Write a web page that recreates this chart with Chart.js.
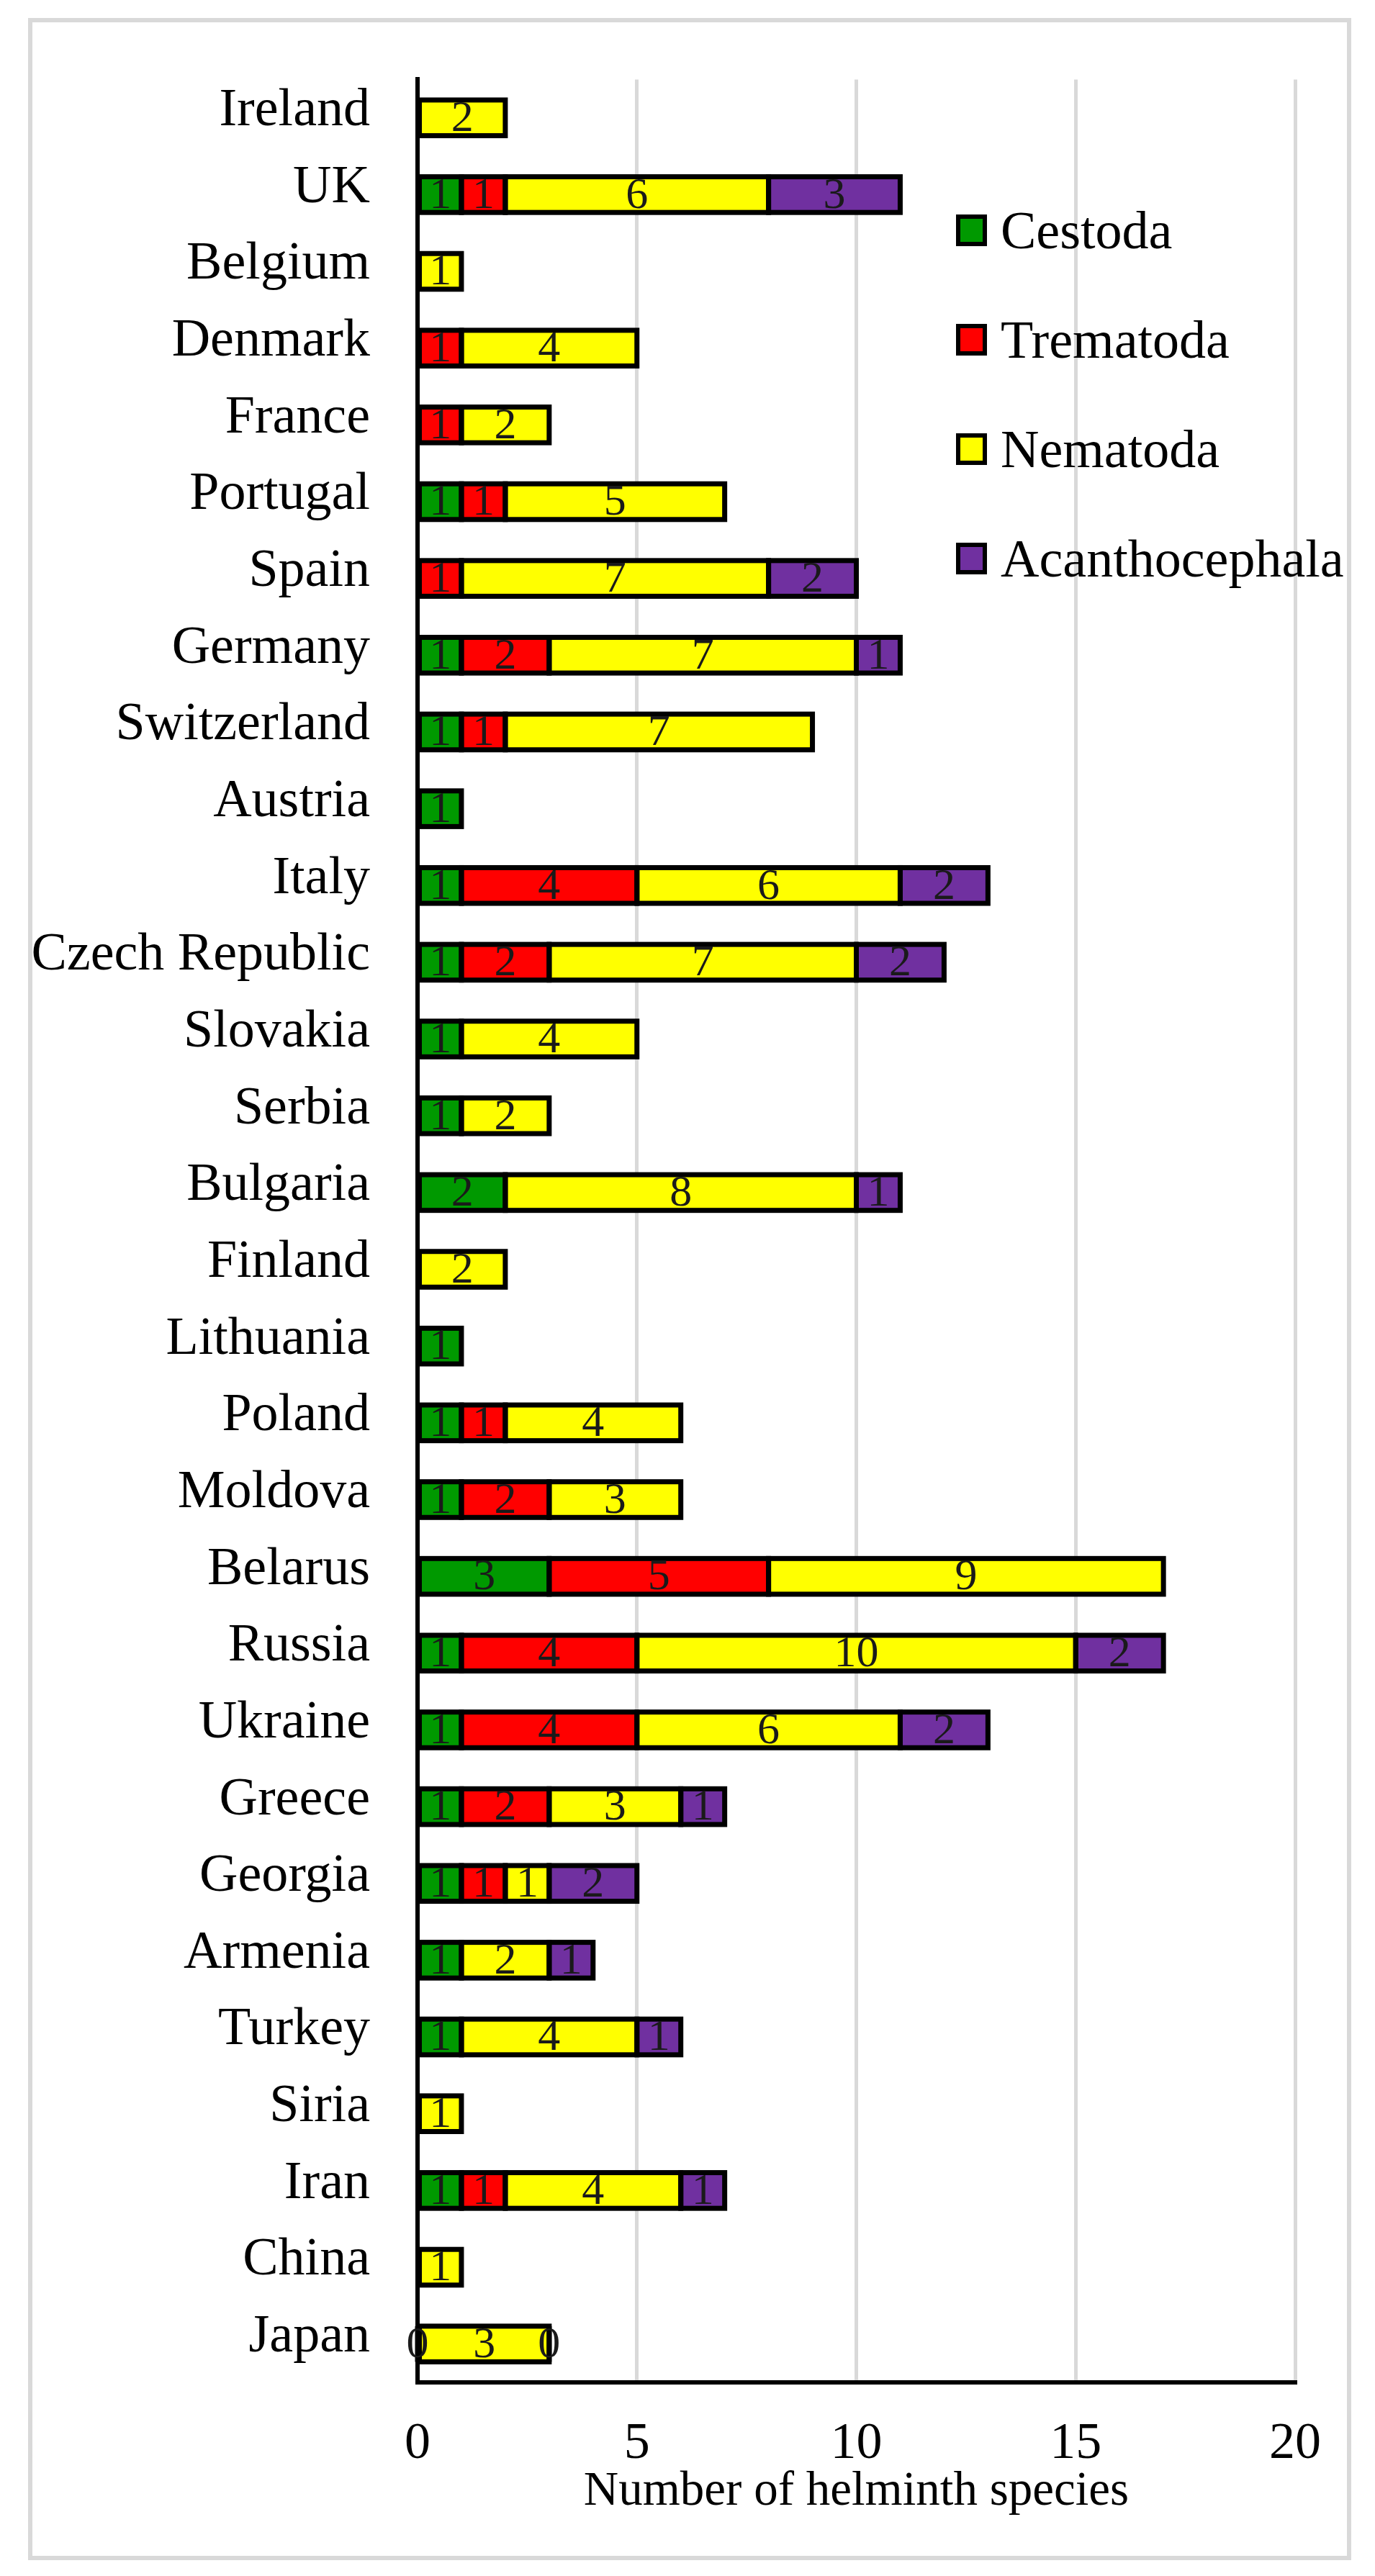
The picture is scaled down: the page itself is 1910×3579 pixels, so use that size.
<!DOCTYPE html>
<html>
<head>
<meta charset="utf-8">
<script src="https://cdn.jsdelivr.net/npm/chart.js@4.4.1/dist/chart.umd.min.js"></script>
<style>
    html, body { margin: 0; padding: 0; background: #fff; }
    #wrap { position: relative; width: 1910px; height: 3579px; }
    #frame { position: absolute; left: 39px; top: 25px; width: 1826px; height: 3520px; border: 6px solid #d9d9d9; }
    #chartBox { position: absolute; left: 0; top: 0; width: 1910px; height: 3579px; }
    #legend { position: absolute; left: 1328px; top: 244px; font-family: "Liberation Serif", serif; font-size: 74px; color: #000; }
    .item { display: flex; align-items: center; height: 152px; }
    .swatch { width: 31px; height: 32px; border: 6px solid #000; margin-right: 19px; }
</style>
</head>
<body>
<div id="wrap">
    <div id="frame"></div>
    <div id="chartBox"><canvas id="helminthChart"></canvas></div>
    <div id="legend"></div>
</div>
<script>
// countries, top to bottom
const countries = ["Ireland", "UK", "Belgium", "Denmark", "France", "Portugal", "Spain", "Germany",
    "Switzerland", "Austria", "Italy", "Czech Republic", "Slovakia", "Serbia", "Bulgaria", "Finland",
    "Lithuania", "Poland", "Moldova", "Belarus", "Russia", "Ukraine", "Greece", "Georgia", "Armenia",
    "Turkey", "Siria", "Iran", "China", "Japan"];

// number of species per group (null = no bar / no label)
const cestoda = [null, 1, null, null, null, 1, null, 1, 1, 1, 1, 1, 1, 1, 2, null, 1, 1, 1, 3, 1, 1, 1, 1, 1, 1, null, 1, null, 0];
const trematoda = [null, 1, null, 1, 1, 1, 1, 2, 1, null, 4, 2, null, null, null, null, null, 1, 2, 5, 4, 4, 2, 1, null, null, null, 1, null, null];
const nematoda = [2, 6, 1, 4, 2, 5, 7, 7, 7, null, 6, 7, 4, 2, 8, 2, null, 4, 3, 9, 10, 6, 3, 1, 2, 4, 1, 4, 1, 3];
const acanthocephala = [null, 3, null, null, null, null, 2, 1, null, null, 2, 2, null, null, 1, null, null, null, null, null, 2, 2, 1, 2, 1, 1, null, 1, null, 0];

const groupNames = ["Cestoda", "Trematoda", "Nematoda", "Acanthocephala"];
const groupColors = ["#009900", "#ff0000", "#ffff00", "#7030a0"];
const xTicks = [0, 5, 10, 15, 20];

const serif = "'Liberation Serif', 'Times New Roman', serif";

// black outline centred on each segment edge (like the office chart), then the numbers
const segmentOutlines = {
    id: "segmentOutlines",
    afterDatasetsDraw(chart) {
        const ctx = chart.ctx;
        ctx.save();
        ctx.lineWidth = 7;
        ctx.strokeStyle = "#000";
        chart.data.datasets.forEach(function (ds, i) {
            chart.getDatasetMeta(i).data.forEach(function (bar, j) {
                if (ds.data[j] === null) return;
                const left = Math.min(bar.x, bar.base);
                const w = Math.abs(bar.x - bar.base);
                ctx.strokeRect(left, bar.y - bar.height / 2, w, bar.height);
            });
        });
        ctx.font = "62px " + serif;
        ctx.fillStyle = "#1a1a1a";
        ctx.textAlign = "center";
        ctx.textBaseline = "middle";
        chart.data.datasets.forEach(function (ds, i) {
            chart.getDatasetMeta(i).data.forEach(function (bar, j) {
                const v = ds.data[j];
                if (v === null) return;
                ctx.fillText(String(v), (bar.x + bar.base) / 2, bar.y + 2);
            });
        });
        ctx.restore();
    }
};

const datasets = [cestoda, trematoda, nematoda, acanthocephala].map(function (values, i) {
    return {
        label: groupNames[i],
        data: values,
        backgroundColor: groupColors[i],
        borderWidth: 0,
        barPercentage: 0.465,
        categoryPercentage: 1
    };
});

new Chart(document.getElementById("helminthChart"), {
    type: "bar",
    data: { labels: countries, datasets: datasets },
    plugins: [segmentOutlines],
    options: {
        indexAxis: "y",
        responsive: true,
        maintainAspectRatio: false,
        animation: false,
        layout: { padding: { top: 81, right: 111, bottom: 0, left: 0 } },
        plugins: {
            legend: { display: false },
            tooltip: { enabled: false }
        },
        scales: {
            x: {
                stacked: true,
                min: 0,
                max: 20,
                afterBuildTicks: function (scale) {
                    scale.ticks = xTicks.map(function (v) { return { value: v }; });
                },
                afterFit: function (scale) { scale.height = 269; },
                grid: { color: "#d9d9d9", lineWidth: 5, drawTicks: false },
                border: { color: "#000", width: 6 },
                ticks: { color: "#000", padding: 43, font: { family: serif, size: 72 } },
                title: {
                    display: true,
                    text: "Number of helminth species",
                    color: "#000",
                    font: { family: serif, size: 67 },
                    padding: { top: 0, bottom: 76 }
                }
            },
            y: {
                stacked: true,
                afterFit: function (scale) { scale.width = 580; },
                grid: { display: false, drawTicks: false },
                border: { color: "#000", width: 6 },
                ticks: { color: "#000", padding: 66, labelOffset: -9, font: { family: serif, size: 74 } }
            }
        }
    }
});

// legend on the right, inside the plot
const legendBox = document.getElementById("legend");
groupNames.forEach(function (name, i) {
    const item = document.createElement("div");
    item.className = "item";
    const sw = document.createElement("span");
    sw.className = "swatch";
    sw.style.background = groupColors[i];
    const txt = document.createElement("span");
    txt.textContent = name;
    item.appendChild(sw);
    item.appendChild(txt);
    legendBox.appendChild(item);
});
</script>
</body>
</html>
